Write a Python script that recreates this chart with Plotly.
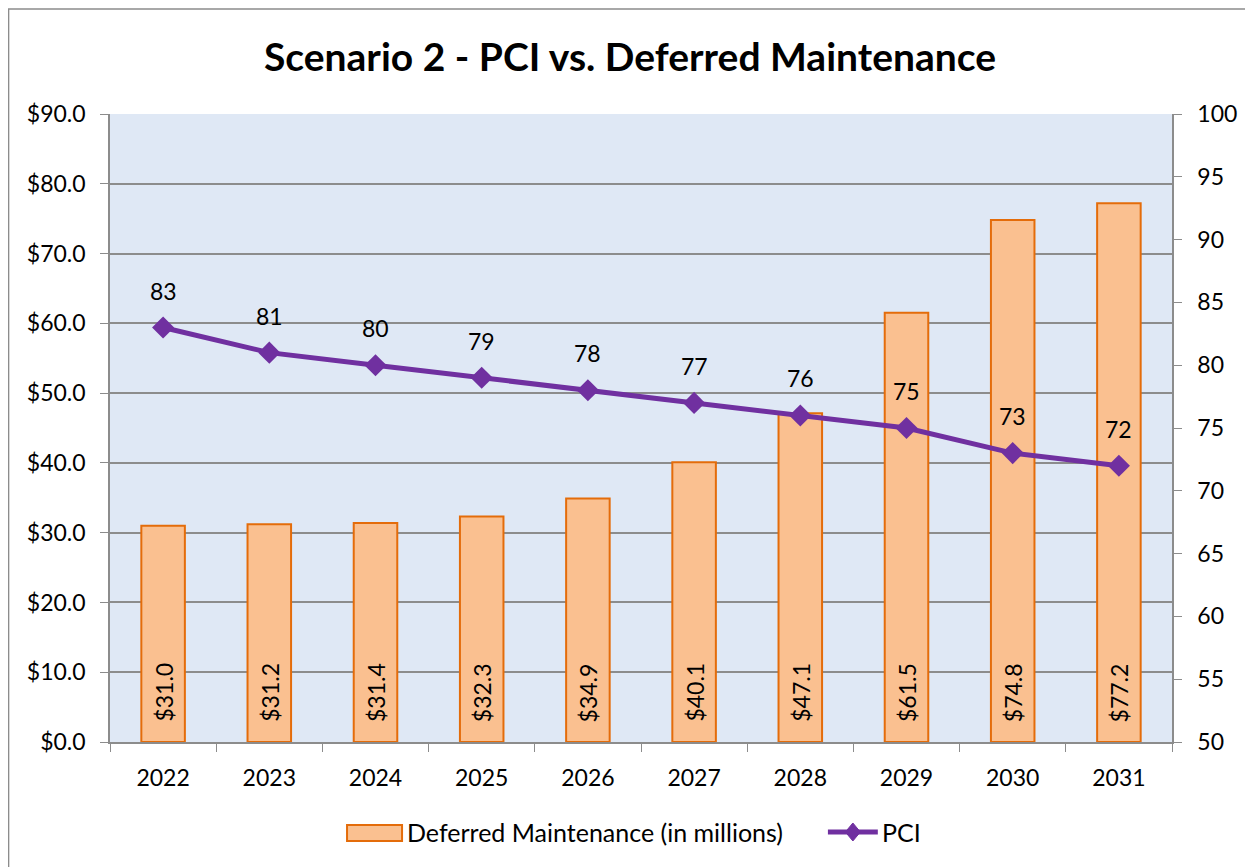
import plotly.graph_objects as go

years = ["2022", "2023", "2024", "2025", "2026", "2027", "2028", "2029", "2030", "2031"]
deferred = [31.0, 31.2, 31.4, 32.3, 34.9, 40.1, 47.1, 61.5, 74.8, 77.2]
pci = [83, 81, 80, 79, 78, 77, 76, 75, 73, 72]

FONT = "Lato, 'Open Sans', sans-serif"
GRID = "#8C8C8C"
BAR_FILL = "#FAC090"
BAR_LINE = "#E46C0A"
PURPLE = "#7030A0"

fig = go.Figure()
fig.add_trace(go.Bar(
    x=years, y=deferred, name="Deferred Maintenance (in millions)",
    marker=dict(color=BAR_FILL, line=dict(color=BAR_LINE, width=2)),
    width=0.41, yaxis="y", showlegend=False,
))
fig.add_trace(go.Scatter(
    x=years, y=pci, name="PCI", mode="lines+markers",
    line=dict(color=PURPLE, width=5),
    marker=dict(symbol="diamond", size=17, color=PURPLE),
    yaxis="y2", showlegend=False,
))
# value labels on bars (rotated, near bar base)
for i, v in enumerate(deferred):
    fig.add_annotation(x=i, y=0, xref="x", yref="y", text=f"${v:.1f}", showarrow=False,
                       textangle=-90, yanchor="bottom", yshift=18,
                       font=dict(size=23, color="black", family=FONT))
# PCI labels above points
for i, v in enumerate(pci):
    fig.add_annotation(x=i, y=v, xref="x", yref="y2", text=str(v), showarrow=False,
                       yshift=37, font=dict(size=23, color="black", family=FONT))

# chart border (left and top edges visible)
fig.add_shape(type="rect", xref="paper", yref="paper", x0=-0.0955, x1=1.2, y0=-0.3, y1=1.167,
              line=dict(color="#8C8C8C", width=1.5), fillcolor="rgba(0,0,0,0)", layer="below")

# custom legend
LY = -0.1433
fig.add_shape(type="rect", xref="paper", yref="paper", x0=0.2232, x1=0.2750, y0=-0.1576, y1=-0.1322,
              line=dict(color=BAR_LINE, width=2), fillcolor=BAR_FILL)
fig.add_annotation(xref="paper", yref="paper", x=0.2778, y=LY, xanchor="left", yanchor="middle",
                   text="Deferred Maintenance (in millions)", showarrow=False,
                   font=dict(size=25, color="black", family=FONT))
fig.add_shape(type="line", xref="paper", yref="paper", x0=0.676, x1=0.723, y0=LY, y1=LY,
              line=dict(color=PURPLE, width=5))
fig.add_shape(type="path", xref="paper", yref="paper", xsizemode="pixel", ysizemode="pixel",
              xanchor=0.6995, yanchor=LY, path="M0,9 L7.5,0 L0,-9 L-7.5,0 Z",
              fillcolor=PURPLE, line=dict(color=PURPLE, width=1))
fig.add_annotation(xref="paper", yref="paper", x=0.7250, y=LY, xanchor="left", yanchor="middle",
                   text="PCI", showarrow=False, font=dict(size=25, color="black", family=FONT))

fig.update_layout(
    width=1253, height=867,
    margin=dict(l=102, r=89, t=106, b=133),
    paper_bgcolor="white", plot_bgcolor="#DFE8F5",
    font=dict(family=FONT, size=23, color="black"),
    title=dict(text="<b>Scenario 2 - PCI vs. Deferred Maintenance</b>", x=0.4964, xanchor="center",
               y=0.9435, yanchor="middle", font=dict(size=39, family=FONT)),
    xaxis=dict(type="category", range=[-0.5, 9.5], tickson="boundaries", ticks="outside", ticklen=8,
               tickcolor=GRID, showline=True, linecolor=GRID, linewidth=1.5, showgrid=False,
               tickfont=dict(size=23), ticklabelstandoff=15),
    yaxis=dict(range=[0, 90], dtick=10, tickformat="$.1f", ticks="outside", ticklen=8, tickcolor=GRID,
               showline=True, linecolor=GRID, linewidth=1.5, showgrid=True, gridcolor=GRID, gridwidth=2,
               zeroline=False, tickfont=dict(size=23), ticklabelstandoff=10),
    yaxis2=dict(range=[50, 100], dtick=5, overlaying="y", side="right", ticks="outside", ticklen=8,
                tickcolor=GRID, showline=True, linecolor=GRID, linewidth=1.5, showgrid=False,
                zeroline=False, tickfont=dict(size=23), ticklabelstandoff=11),
    showlegend=False,
)

fig.write_html("out.html")
